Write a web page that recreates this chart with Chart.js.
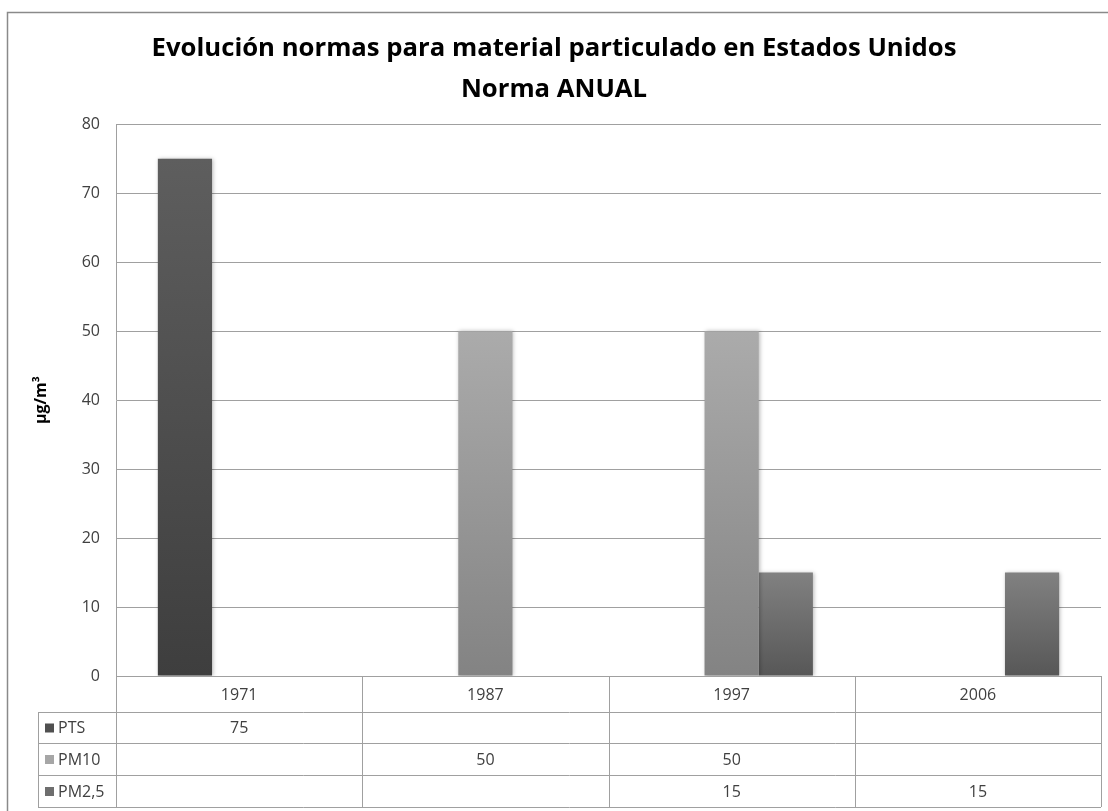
<!DOCTYPE html>
<html>
<head>
<meta charset="utf-8">
<script src="https://cdn.jsdelivr.net/npm/chart.js@4"></script>
<style>
  html, body { margin: 0; padding: 0; background: #fff; }
  #wrap { width: 1108px; height: 811px; }
</style>
</head>
<body>
<div id="wrap"><canvas id="c" width="1108" height="811"></canvas></div>
<script>
// Annual particulate matter standards (µg/m³)
const categories = ['1971', '1987', '1997', '2006'];
const seriesNames = ['PTS', 'PM10', 'PM2,5'];
const ptsValues  = [75, null, null, null];
const pm10Values = [null, 50, 50, null];
const pm25Values = [null, null, 15, 15];
const yTicks = [0, 10, 20, 30, 40, 50, 60, 70, 80];

// Gradient stops (top, bottom) and key colour per series
const shades = [
  { top: '#5e5e5e', bottom: '#3e3e3e', key: '#505050' },
  { top: '#ababab', bottom: '#838383', key: '#a6a6a6' },
  { top: '#818181', bottom: '#575757', key: '#6e6e6e' }
];

const FONT = "'Open Sans', 'Liberation Sans', sans-serif";
const TEXT = '#404040';
const LINE = '#a0a0a0';

function barGradient(i) {
  return (ctx) => {
    const chart = ctx.chart;
    const area = chart.chartArea;
    if (!area || ctx.type !== 'data') return shades[i].key;
    const v = ctx.raw;
    if (v == null) return shades[i].key;
    const y = chart.scales.y;
    const top = y.getPixelForValue(v);
    const base = y.getPixelForValue(0);
    const g = chart.ctx.createLinearGradient(0, top, 0, base);
    g.addColorStop(0, shades[i].top);
    g.addColorStop(1, shades[i].bottom);
    return g;
  };
}

// Outer frame around the whole chart
const framePlugin = {
  id: 'frame',
  beforeDraw(chart) {
    const c = chart.ctx;
    c.save();
    c.strokeStyle = '#8a8a8a';
    c.lineWidth = 1.5;
    c.beginPath();
    c.moveTo(7.5, chart.height + 2);
    c.lineTo(7.5, 12.5);
    c.lineTo(chart.width + 2, 12.5);
    c.stroke();
    c.restore();
  }
};

// Soft shadow behind the bars
const shadowPlugin = {
  id: 'barShadow',
  beforeDatasetsDraw(chart) {
    const c = chart.ctx;
    c.save();
    c.shadowColor = 'rgba(0,0,0,0.28)';
    c.shadowBlur = 4;
    c.shadowOffsetX = 1;
    c.shadowOffsetY = 0;
  },
  afterDatasetsDraw(chart) {
    chart.ctx.restore();
  }
};

// Data table under the plot: category row plus one row per series
const tablePlugin = {
  id: 'dataTable',
  afterDraw(chart) {
    const c = chart.ctx;
    const area = chart.chartArea;
    const xs = chart.scales.x;
    const left = area.left, right = area.right;
    const keyLeft = 38;
    const rowTops = [area.bottom, area.bottom + 36, area.bottom + 67, area.bottom + 99];
    const tableBottom = area.bottom + 131;
    const n = categories.length;
    const step = (right - left) / n;

    c.save();
    c.strokeStyle = LINE;
    c.lineWidth = 1;
    c.beginPath();
    // horizontal rules
    c.moveTo(left, rowTops[0] + 0.5); c.lineTo(right, rowTops[0] + 0.5);
    for (let r = 1; r < rowTops.length; r++) {
      c.moveTo(keyLeft, rowTops[r] + 0.5); c.lineTo(right, rowTops[r] + 0.5);
    }
    c.moveTo(keyLeft, tableBottom + 0.5); c.lineTo(right, tableBottom + 0.5);
    // vertical rules
    c.moveTo(keyLeft + 0.5, rowTops[1]); c.lineTo(keyLeft + 0.5, tableBottom);
    for (let k = 0; k <= n; k++) {
      const x = Math.round(left + k * step) + 0.5;
      c.moveTo(x, rowTops[0]); c.lineTo(x, tableBottom);
    }
    c.stroke();

    c.font = "16px " + FONT;
    c.fillStyle = TEXT;
    c.textAlign = 'center';
    c.textBaseline = 'middle';
    categories.forEach((cat, i) => {
      c.fillText(cat, xs.getPixelForValue(i), (rowTops[0] + rowTops[1]) / 2 + 1);
    });

    chart.data.datasets.forEach((ds, d) => {
      const yMid = (rowTops[d + 1] + (d + 2 < rowTops.length ? rowTops[d + 2] : tableBottom)) / 2 + 1;
      c.fillStyle = shades[d].key;
      c.fillRect(keyLeft + 7, yMid - 5, 9, 9);
      c.fillStyle = TEXT;
      c.textAlign = 'left';
      c.fillText(ds.label, keyLeft + 20, yMid);
      c.textAlign = 'center';
      ds.data.forEach((v, i) => {
        if (v != null) c.fillText(String(v), xs.getPixelForValue(i), yMid);
      });
    });
    c.restore();
  }
};

new Chart(document.getElementById('c'), {
  type: 'bar',
  data: {
    labels: categories,
    datasets: [
      { label: seriesNames[0], data: ptsValues,  backgroundColor: barGradient(0) },
      { label: seriesNames[1], data: pm10Values, backgroundColor: barGradient(1) },
      { label: seriesNames[2], data: pm25Values, backgroundColor: barGradient(2) }
    ]
  },
  options: {
    responsive: false,
    animation: false,
    devicePixelRatio: 1,
    layout: { padding: { left: 7, right: 7, top: 0, bottom: 135 } },
    datasets: { bar: { categoryPercentage: 0.66, barPercentage: 1, borderWidth: 0 } },
    plugins: {
      legend: { display: false },
      tooltip: { enabled: false },
      title: {
        display: true,
        text: ['Evolución normas para material particulado en Estados Unidos', 'Norma ANUAL'],
        color: '#000',
        font: { family: FONT, size: 25.7, weight: 'bold', lineHeight: 1.6 },
        padding: { top: 28, bottom: 14 }
      }
    },
    scales: {
      x: { display: false },
      y: {
        min: 0, max: 80,
        afterBuildTicks(s) { s.ticks = yTicks.map(v => ({ value: v })); },
        afterFit(s) { s.width = 116 - 7; },
        ticks: { color: TEXT, font: { family: FONT, size: 16 }, padding: 16 },
        grid: { color: LINE, lineWidth: 1, drawTicks: false },
        border: { display: true, color: LINE, width: 1 },
        title: {
          display: true, text: 'µg/m³', color: '#000',
          font: { family: FONT, size: 16, weight: 'bold' },
          padding: { top: 25, bottom: 0 }
        }
      }
    }
  },
  plugins: [framePlugin, shadowPlugin, tablePlugin]
});
</script>
</body>
</html>
